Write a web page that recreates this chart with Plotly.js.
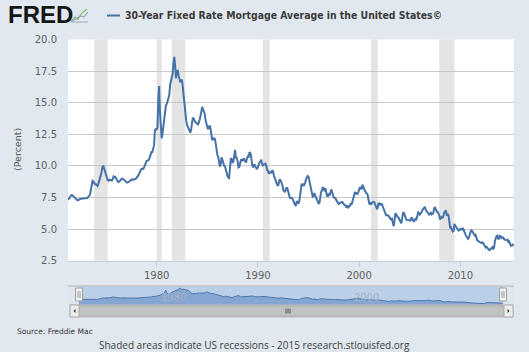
<!DOCTYPE html>
<html>
<head>
<meta charset="utf-8">
<script src="https://cdn.plot.ly/plotly-3.0.1.min.js"></script>
<style>html,body{margin:0;padding:0;background:#e1e8ef;}#chart{width:529px;height:352px;}</style>
</head>
<body>
<div id="chart"></div>
<script>
// Monthly averages, starting April 1971
const startYear = 1971, startMonth = 4;
const rates = [
  7.31,7.43,7.53,7.60,7.70,7.69,7.63,7.55,7.48,
  7.44,7.32,7.29,7.29,7.37,7.37,7.40,7.40,7.42,7.43,7.44,7.44,
  7.44,7.44,7.46,7.54,7.65,7.73,8.05,8.50,8.82,8.77,8.58,8.54,
  8.54,8.46,8.41,8.58,8.97,9.09,9.28,9.59,9.96,9.98,9.79,9.62,
  9.43,9.10,8.89,8.82,8.91,8.89,8.82,8.84,8.95,9.16,9.10,9.14,
  9.02,8.81,8.76,8.73,8.76,8.85,8.93,9.00,8.98,8.92,8.81,8.79,
  8.72,8.67,8.69,8.75,8.83,8.86,8.94,8.94,8.90,8.92,8.92,8.96,
  9.01,9.15,9.20,9.34,9.52,9.67,9.77,9.78,9.76,9.86,10.11,10.35,
  10.39,10.41,10.43,10.50,10.69,11.04,11.09,11.09,11.30,11.64,12.83,12.90,
  12.88,13.04,15.28,16.32,14.26,12.71,12.19,12.56,13.20,13.79,14.21,14.79,
  14.90,15.13,15.40,15.58,16.40,16.70,16.83,17.29,18.16,18.63,17.83,16.92,
  17.40,17.60,17.16,16.89,16.68,16.70,16.82,16.27,15.43,14.61,13.83,13.62,
  13.25,13.04,12.80,12.78,12.63,12.87,13.42,13.81,13.73,13.54,13.44,13.42,
  13.37,13.23,13.39,13.65,13.94,14.42,14.67,14.47,14.35,14.13,13.64,13.18,
  13.08,12.92,13.17,13.20,12.91,12.22,12.03,12.19,12.19,12.14,11.78,11.26,
  10.88,10.71,10.08,9.94,10.14,10.68,10.51,10.20,10.01,9.98,9.70,9.31,
  9.20,9.08,9.04,9.83,10.60,10.54,10.28,10.33,10.89,11.26,10.65,10.64,
  10.38,9.89,9.93,10.20,10.46,10.46,10.43,10.60,10.48,10.30,10.27,10.61,
  10.73,10.65,11.03,11.05,10.77,10.20,9.88,9.99,10.13,9.95,9.77,9.74,
  9.90,10.20,10.27,10.37,10.48,10.16,10.04,10.10,10.18,10.18,10.01,9.67,
  9.64,9.37,9.50,9.49,9.47,9.62,9.58,9.24,9.01,8.86,8.71,8.50,
  8.43,8.76,8.94,8.85,8.67,8.51,8.13,7.98,7.92,8.09,8.31,8.22,
  7.91,7.47,7.46,7.46,7.47,7.42,7.21,7.11,6.92,6.83,7.16,7.17,
  7.06,7.15,7.68,8.32,8.60,8.40,8.61,8.51,8.64,8.93,9.17,9.20,
  9.15,8.83,8.46,8.32,7.96,7.57,7.61,7.86,7.64,7.48,7.38,7.20,
  7.03,7.08,7.62,7.93,8.07,8.32,8.25,8.00,8.23,7.92,7.62,7.60,
  7.82,7.65,7.90,8.14,7.94,7.69,7.50,7.48,7.43,7.29,7.21,7.10,
  6.99,7.04,7.13,7.14,7.14,7.00,6.95,6.92,6.72,6.71,6.87,6.72,
  6.79,6.81,7.04,6.92,7.15,7.55,7.63,7.94,7.82,7.85,7.74,7.91,
  8.21,8.33,8.24,8.15,8.52,8.29,8.15,8.03,7.91,7.80,7.75,7.38,
  7.03,7.05,6.95,7.08,7.15,7.16,7.13,6.95,6.82,6.62,6.66,7.07,
  7.00,6.89,7.01,6.99,6.81,6.65,6.49,6.29,6.09,6.11,6.07,6.05,
  5.92,5.84,5.75,5.81,5.48,5.23,5.63,6.26,6.15,5.95,5.93,5.88,
  5.71,5.64,5.45,5.83,6.27,6.29,6.06,5.87,5.75,5.72,5.73,5.75,
  5.71,5.63,5.93,5.86,5.72,5.58,5.70,5.82,5.77,6.07,6.33,6.27,
  6.15,6.25,6.32,6.51,6.60,6.68,6.76,6.52,6.40,6.36,6.24,6.14,
  6.22,6.29,6.16,6.18,6.26,6.66,6.70,6.57,6.38,6.38,6.21,6.10,
  5.76,5.92,5.97,5.92,6.04,6.32,6.43,6.48,6.04,6.20,6.09,5.33,
  5.06,5.13,5.00,4.81,4.86,5.42,5.22,5.19,5.06,4.95,4.88,4.93,
  5.03,4.99,4.97,5.10,4.89,4.74,4.56,4.43,4.35,4.23,4.30,4.71,
  4.76,4.95,4.84,4.84,4.64,4.51,4.55,4.27,4.11,4.07,3.99,3.96,
  3.92,3.89,3.95,3.91,3.80,3.68,3.55,3.60,3.50,3.38,3.35,3.35,
  3.41,3.53,3.57,3.45,3.54,4.07,4.37,4.46,4.49,4.19,4.26,4.46,
  4.43,4.30,4.34,4.34,4.19,4.16,4.13,4.12,4.16,3.92,4.00,3.86,
  3.67,3.71,3.77,3.67
];
const recessionStart = ['1973-11-01','1980-01-01','1981-07-01','1990-07-01','2001-03-01','2007-12-01'];
const recessionEnd   = ['1975-03-01','1980-07-01','1982-11-01','1991-03-01','2001-11-01','2009-06-01'];
const xTickYears = ['1980','1990','2000','2010'];
const yTicks = [2.5,5.0,7.5,10.0,12.5,15.0,17.5,20.0];
const navLabels = ['1980','2000'];

const dates = rates.map((v,i)=>{
  const m = startMonth - 1 + i;
  const y = startYear + Math.floor(m/12);
  const mm = (m % 12) + 1;
  return y + '-' + String(mm).padStart(2,'0') + '-01';
});

const W = 529, H = 352;
const px = x => x / W;
const py = y => 1 - y / H;
const lineColor = '#4572a7';
const xRange = ['1971-04-01','2015-04-20'];

const traces = [
  {x: dates, y: rates, type:'scatter', mode:'lines', line:{color:lineColor, width:2}, xaxis:'x', yaxis:'y', hoverinfo:'skip'},
  {x: dates, y: rates, type:'scatter', mode:'lines', fill:'tozeroy', fillcolor:'#85a6d1', line:{color:'#4a76ab', width:1}, xaxis:'x2', yaxis:'y2', hoverinfo:'skip'}
];

const shapes = [];
recessionStart.forEach((s,i)=>{
  shapes.push({type:'rect', xref:'x', yref:'y domain', x0:s, x1:recessionEnd[i], y0:0, y1:1, fillcolor:'#e4e4e4', line:{width:0}, layer:'below'});
});
// navigator frame and mask
shapes.push({type:'rect', xref:'paper', yref:'paper', x0:px(68), x1:px(514), y0:py(305), y1:py(286), fillcolor:'#dfe6ee', line:{width:0}, layer:'below'});
shapes.push({type:'rect', xref:'paper', yref:'paper', x0:px(79), x1:px(503), y0:py(305), y1:py(286.5), fillcolor:'#bccfe8', line:{width:0}, layer:'below'});
shapes.push({type:'line', xref:'paper', yref:'paper', x0:px(68), x1:px(514), y0:py(286), y1:py(286), line:{color:'#b4b4b4', width:1}});
// scrollbar
shapes.push({type:'rect', xref:'paper', yref:'paper', x0:px(70), x1:px(513), y0:py(317), y1:py(305), fillcolor:'#c9c9c9', line:{color:'#b9b9b9', width:1}});
shapes.push({type:'rect', xref:'paper', yref:'paper', x0:px(79), x1:px(504), y0:py(316), y1:py(306), fillcolor:'#c2c2c2', line:{color:'#b0b0b0', width:1}});
shapes.push({type:'rect', xref:'paper', yref:'paper', x0:px(70), x1:px(79), y0:py(317), y1:py(305), fillcolor:'#ebebeb', line:{color:'#b0b0b0', width:1}});
shapes.push({type:'rect', xref:'paper', yref:'paper', x0:px(504), x1:px(513), y0:py(317), y1:py(305), fillcolor:'#ebebeb', line:{color:'#b0b0b0', width:1}});
shapes.push({type:'path', xref:'paper', yref:'paper', path:`M${px(73.5)},${py(311)} L${px(75.5)},${py(309)} L${px(75.5)},${py(313)} Z`, fillcolor:'#333', line:{width:0}});
shapes.push({type:'path', xref:'paper', yref:'paper', path:`M${px(509.5)},${py(311)} L${px(507.5)},${py(309)} L${px(507.5)},${py(313)} Z`, fillcolor:'#333', line:{width:0}});
[286,288,290].forEach(g=>{
  shapes.push({type:'line', xref:'paper', yref:'paper', x0:px(g), x1:px(g), y0:py(308.5), y1:py(313.5), line:{color:'#555', width:1}});
});
// navigator handles
[79,503].forEach(h=>{
  shapes.push({type:'rect', xref:'paper', yref:'paper', x0:px(h-3.5), x1:px(h+3.5), y0:py(301), y1:py(288), fillcolor:'#f2f2f2', line:{color:'#a0a0a0', width:1}});
  shapes.push({type:'line', xref:'paper', yref:'paper', x0:px(h-1), x1:px(h-1), y0:py(298), y1:py(291), line:{color:'#999', width:1}});
  shapes.push({type:'line', xref:'paper', yref:'paper', x0:px(h+1), x1:px(h+1), y0:py(298), y1:py(291), line:{color:'#999', width:1}});
});
// FRED icon
shapes.push({type:'line', xref:'paper', yref:'paper', x0:px(70), x1:px(88), y0:py(22), y1:py(22), line:{color:'#9aa8b4', width:1}});
shapes.push({type:'path', xref:'paper', yref:'paper', path:`M${px(71)},${py(21)} L${px(75)},${py(17)} L${px(78)},${py(19)} L${px(82)},${py(13)} L${px(87)},${py(9)}`, line:{color:'#8cbf6a', width:1.3}});
shapes.push({type:'path', xref:'paper', yref:'paper', path:`M${px(72)},${py(21)} L${px(76)},${py(19)} L${px(80)},${py(16)} L${px(84)},${py(17)} L${px(88)},${py(12)}`, line:{color:'#8aa2bf', width:1.1}});
// legend dash in title
shapes.push({type:'line', xref:'paper', yref:'paper', x0:px(107), x1:px(120), y0:py(15.5), y1:py(15.5), line:{color:lineColor, width:2}});

const annotations = [
  {xref:'paper', yref:'paper', x:px(6), y:py(15), xanchor:'left', yanchor:'middle', showarrow:false,
   text:'<b>FRED</b>', font:{family:'Liberation Sans, Arial', size:24, color:'#151515'}},
  {xref:'paper', yref:'paper', x:px(123), y:py(15), xanchor:'left', yanchor:'middle', showarrow:false,
   text:'<b>30-Year Fixed Rate Mortgage Average in the United States©</b>',
   font:{family:'DejaVu Sans Condensed, DejaVu Sans', size:10.4, color:'#3a3a3a'}},
  {xref:'paper', yref:'paper', x:px(17), y:py(150), xanchor:'center', yanchor:'middle', showarrow:false, textangle:-90,
   text:'(Percent)', font:{family:'DejaVu Sans', size:9.5, color:'#555'}},
  {xref:'paper', yref:'paper', x:px(15), y:py(331), xanchor:'left', yanchor:'middle', showarrow:false,
   text:'Source: Freddie Mac', font:{family:'DejaVu Sans', size:7.5, color:'#333'}},
  {xref:'paper', yref:'paper', x:px(254), y:py(345), xanchor:'center', yanchor:'middle', showarrow:false,
   text:'Shaded areas indicate US recessions - 2015 research.stlouisfed.org', font:{family:'Open Sans, DejaVu Sans', size:10, color:'#3d3d3d'}}
];
navLabels.forEach(l=>{
  annotations.push({xref:'x2', yref:'paper', x:l+'-01-01', y:py(297), xanchor:'left', yanchor:'middle', showarrow:false, xshift:-4,
    text:l, font:{family:'DejaVu Sans', size:10, color:'#a3b3c6'}});
});

const layout = {
  width: W, height: H,
  margin:{l:0, r:0, t:0, b:0},
  paper_bgcolor:'#e1e8ef',
  plot_bgcolor:'#ffffff',
  showlegend:false,
  xaxis:{domain:[px(68), px(514)], anchor:'y', type:'date', range:xRange,
    tickvals: xTickYears.map(y=>y+'-01-01'), ticktext: xTickYears,
    showgrid:false, zeroline:false, showline:true, linecolor:'#c0d0e0', linewidth:1,
    ticks:'outside', ticklen:5, tickcolor:'#c0d0e0',
    tickfont:{family:'DejaVu Sans', size:10, color:'#606060'}},
  yaxis:{domain:[py(260.7), py(39.5)], anchor:'x', range:[2.5,20],
    tickvals: yTicks, ticktext: yTicks.map(v=>v.toFixed(1)),
    showgrid:true, gridcolor:'#c8c8c8', gridwidth:1, zeroline:false, showline:false,
    ticks:'', ticklabelstandoff:10,
    tickfont:{family:'DejaVu Sans', size:10, color:'#606060'}},
  xaxis2:{domain:[px(79), px(503)], anchor:'y2', type:'date', range:[dates[0], dates[dates.length-1]],
    showgrid:false, zeroline:false, showticklabels:false, ticks:'', showline:false},
  yaxis2:{domain:[py(305), py(287)], anchor:'x2', range:[2,19.5],
    showgrid:false, zeroline:false, showticklabels:false, ticks:'', showline:false},
  shapes: shapes,
  annotations: annotations
};

Plotly.newPlot('chart', traces, layout, {displayModeBar:false, staticPlot:true});
</script>
</body>
</html>
